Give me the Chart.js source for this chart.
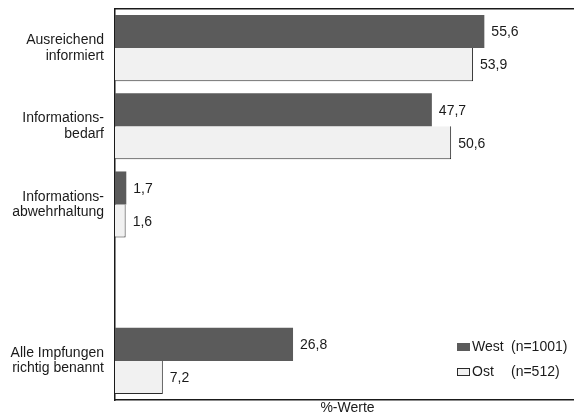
<!DOCTYPE html>
<html lang="de">
<head>
  <meta charset="UTF-8" />
  <title>Informiertheit West / Ost</title>
  <style>
    html, body { margin: 0; padding: 0; background: #fff; overflow: hidden; }
    #wrap { width: 582px; height: 417px; position: relative; }
  </style>
</head>
<body>
  <div id="wrap"><canvas id="infoChart"></canvas></div>

  <script src="https://cdn.jsdelivr.net/npm/chart.js"></script>
  <script>
    // Kategorien (die leere Zeile hält den Abstand vor der letzten Gruppe frei)
    const categories = [
      ['Ausreichend', 'informiert'],
      ['Informations-', 'bedarf'],
      ['Informations-', 'abwehrhaltung'],
      '',
      ['Alle Impfungen', 'richtig benannt']
    ];
    const westValues = [55.6, 47.7, 1.7, null, 26.8];
    const ostValues = [53.9, 50.6, 1.6, null, 7.2];
    const seriesNames = ['West', 'Ost'];
    const sampleSizes = ['(n=1001)', '(n=512)'];
    const axisTitle = '%-Werte';

    const FONT = "'Liberation Sans', Arial, sans-serif";
    const INK = '#1a1a1a';

    // Zahlenwerte rechts neben den Balken, mit Dezimalkomma
    const valueLabels = {
      id: 'valueLabels',
      afterDatasetsDraw(chart) {
        const ctx = chart.ctx;
        ctx.save();
        ctx.font = '14px ' + FONT;
        ctx.fillStyle = INK;
        ctx.textAlign = 'left';
        ctx.textBaseline = 'middle';
        chart.data.datasets.forEach((ds, i) => {
          chart.getDatasetMeta(i).data.forEach((bar, j) => {
            const v = ds.data[j];
            if (v == null) return;
            ctx.fillText(v.toFixed(1).replace('.', ','), bar.x + 7, bar.y + 1);
          });
        });
        ctx.restore();
      }
    };

    // Legende unten rechts im Diagramm, zweispaltig
    const cornerLegend = {
      id: 'cornerLegend',
      afterDraw(chart) {
        const ctx = chart.ctx;
        ctx.save();
        ctx.font = '14px ' + FONT;
        ctx.fillStyle = INK;
        ctx.textBaseline = 'middle';
        chart.data.datasets.forEach((ds, i) => {
          const y = 347 + i * 25;
          ctx.fillStyle = ds.backgroundColor;
          ctx.fillRect(457, y - 4, 13, 8);
          if (ds.borderWidth && ds.borderWidth.right) {
            ctx.strokeStyle = ds.borderColor;
            ctx.lineWidth = 1;
            ctx.strokeRect(457.5, y - 3.5, 12, 7);
          }
          ctx.fillStyle = INK;
          ctx.fillText(seriesNames[i], 472, y);
          ctx.fillText(sampleSizes[i], 511, y);
        });
        ctx.restore();
      }
    };

    new Chart(document.getElementById('infoChart'), {
      type: 'bar',
      data: {
        labels: categories,
        datasets: [
          {
            label: seriesNames[0],
            data: westValues,
            backgroundColor: '#5b5b5b',
            borderWidth: 0
          },
          {
            label: seriesNames[1],
            data: ostValues,
            backgroundColor: '#f1f1f1',
            borderColor: '#2a2a2a',
            borderWidth: { top: 0, right: 1, bottom: 1, left: 0 }
          }
        ]
      },
      options: {
        indexAxis: 'y',
        responsive: true,
        maintainAspectRatio: false,
        animation: false,
        categoryPercentage: 0.845,
        barPercentage: 1,
        layout: { autoPadding: false, padding: { top: 9, right: 2, left: 0, bottom: 0 } },
        scales: {
          x: {
            type: 'linear',
            position: 'bottom',
            min: 0,
            max: 70,
            grid: { display: false, drawTicks: false },
            ticks: { display: false },
            border: { display: true, color: INK, width: 1.5 },
            title: {
              display: true,
              text: axisTitle,
              color: INK,
              font: { family: FONT, size: 14 },
              padding: { top: 0, bottom: 0 }
            },
            afterFit(scale) { scale.height = 17; }
          },
          xTop: {
            type: 'linear',
            position: 'top',
            min: 0,
            max: 70,
            grid: { display: false, drawTicks: false },
            ticks: { display: false },
            border: { display: true, color: INK, width: 1.5 },
            afterFit(scale) { scale.height = 0; }
          },
          y: {
            grid: { display: false, drawTicks: false },
            border: { display: true, color: INK, width: 1.5 },
            ticks: {
              color: INK,
              padding: 11,
              font: { family: FONT, size: 14, lineHeight: 1.1 }
            },
            afterFit(scale) {
              // feste Breite links, keine zusätzliche Randreserve oben/unten
              scale.width = 115;
              scale.paddingTop = 0;
              scale.paddingBottom = 0;
            }
          }
        },
        plugins: {
          legend: { display: false },
          tooltip: { enabled: false }
        }
      },
      plugins: [valueLabels, cornerLegend]
    });
  </script>
</body>
</html>
